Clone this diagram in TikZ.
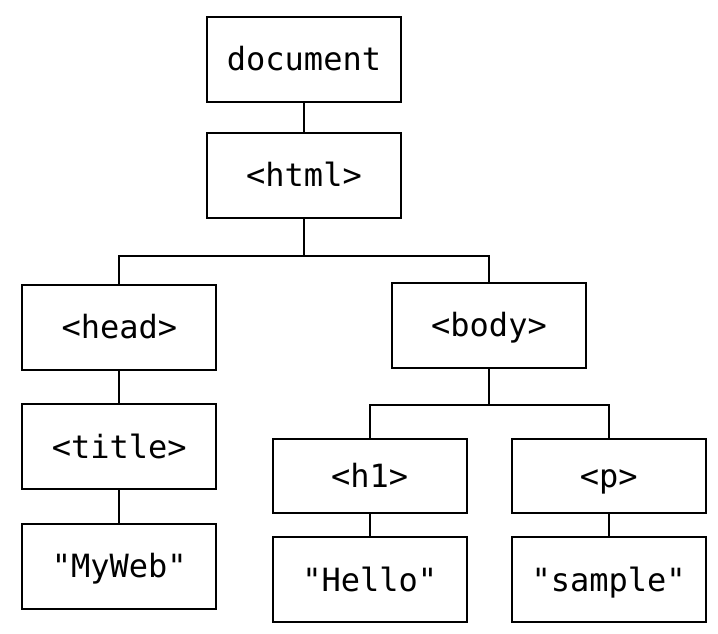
\documentclass[tikz,border=0pt]{standalone}
\usepackage{fontspec}
\setmonofont{DejaVu Sans Mono}
\begin{document}
\begin{tikzpicture}[x=1pt,y=-1pt,
  box/.style={draw, line width=2pt, minimum width=194pt, minimum height=85pt, inner sep=0pt,
    text height=23pt, text depth=0pt,
    font=\fontsize{32}{38}\selectfont\ttfamily},
  small/.style={minimum height=74pt},
  conn/.style={line width=2pt}]
\useasboundingbox (0,0) rectangle (718,634);
\node[box] (doc) at (304,59.3) {document};
\node[box] (html) at (304,175) {<html>};
\node[box] (head) at (119.3,327) {<head>};
\node[box] (body) at (489,325) {<body>};
\node[box] (title) at (119.3,446.7) {<title>};
\node[box] (myweb) at (119.3,566.3) {"MyWeb"};
\node[box,small] (h1) at (369.7,476) {<h1>};
\node[box,small] (p) at (608.7,476) {<p>};
\node[box] (hello) at (369.7,579.7) {"Hello"};
\node[box] (sample) at (608.7,579.7) {"sample"};
\coordinate (j1) at (304,255.7);
\coordinate (j2) at (489,405);
\draw[conn] (doc.south) -- (html.north);
\draw[conn] (html.south) -- (j1);
\draw[conn] (head.north) |- (j1) -| (body.north);
\draw[conn] (head.south) -- (title.north);
\draw[conn] (title.south) -- (myweb.north);
\draw[conn] (body.south) -- (j2);
\draw[conn] (h1.north) |- (j2) -| (p.north);
\draw[conn] (h1.south) -- (hello.north);
\draw[conn] (p.south) -- (sample.north);
\end{tikzpicture}
\end{document}
